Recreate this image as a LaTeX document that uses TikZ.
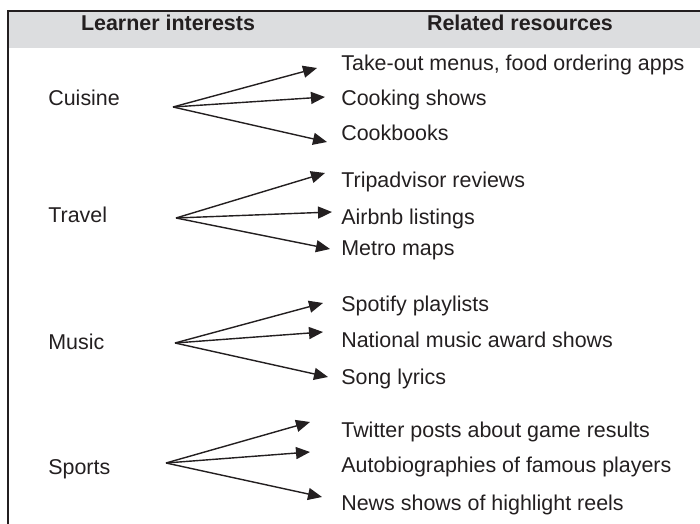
\documentclass[tikz,border=0pt]{standalone}
\usepackage{fontspec}
\setmainfont{Liberation Sans}
\definecolor{InkGray}{RGB}{35,31,32}
\definecolor{HeadGray}{RGB}{220,221,223}
\usepackage{tikz}
\usetikzlibrary{arrows.meta, positioning}

\begin{document}
\begin{tikzpicture}[x=0.02cm,y=0.02cm,
	every node/.style={text=InkGray,font=\fontsize{12.2}{14}\selectfont,inner sep=0pt},
	interest/.style={anchor=base west},
	resource/.style={anchor=base west},
	header/.style={anchor=base,font=\fontsize{12.2}{14}\selectfont\bfseries},
	pointer/.style={InkGray,line width=0.8pt,-{Triangle[length=0.28cm,width=0.24cm]}}]
\useasboundingbox (0,0) rectangle (700,524);
% table head and frame
\fill[HeadGray] (8,513) rectangle (700,476);
\draw[InkGray,line width=1.1pt] (700,513) -- (8,513) -- (8,0);
\node[header] (hleft) at (168,493) {Learner interests};
\node[header] (hright) at (520,493) {Related resources};
% interests
\node[interest] (cuisine) at (48,418) {Cuisine};
\node[interest] (travel) at (48,301) {Travel};
\node[interest] (music) at (48,174) {Music};
\node[interest] (sports) at (48,49) {Sports};
% resources
\node[resource] (takeout) at (341,453.5) {Take-out menus, food ordering apps};
\node[resource] (cooking) at (341,418.5) {Cooking shows};
\node[resource] (cookbooks) at (341,383.5) {Cookbooks};
\node[resource] (tripadvisor) at (341,336.5) {Tripadvisor reviews};
\node[resource] (airbnb) at (341,299.5) {Airbnb listings};
\node[resource] (metro) at (341,268.5) {Metro maps};
\node[resource] (spotify) at (341,212.5) {Spotify playlists};
\node[resource] (awards) at (341,176.5) {National music award shows};
\node[resource] (lyrics) at (341,139.5) {Song lyrics};
\node[resource] (twitter) at (341,86.5) {Twitter posts about game results};
\node[resource] (autobio) at (341,51.5) {Autobiographies of famous players};
\node[resource] (news) at (341,13.5) {News shows of highlight reels};
% fan points
\coordinate (cuisine-o) at (173,417);
\coordinate (travel-o) at (176,306);
\coordinate (music-o) at (175,181);
\coordinate (sports-o) at (166,61);
\foreach \from/\to/\dx/\dy in {cuisine-o/takeout/-24/2.5, cuisine-o/cooking/-16/8.5,
	cuisine-o/cookbooks/-14/-1.5, travel-o/tripadvisor/-16/14.5, travel-o/airbnb/-9/12.5,
	travel-o/metro/-11/6.5, music-o/spotify/-18/8.5, music-o/awards/-18/15.5,
	music-o/lyrics/-13/7.5, sports-o/twitter/-31/15.5, sports-o/autobio/-31/20.5,
	sports-o/news/-19/13.5}{
	\draw[pointer] (\from) -- ([shift={(\dx,\dy)}]\to.base west);
}
\end{tikzpicture}
\end{document}
